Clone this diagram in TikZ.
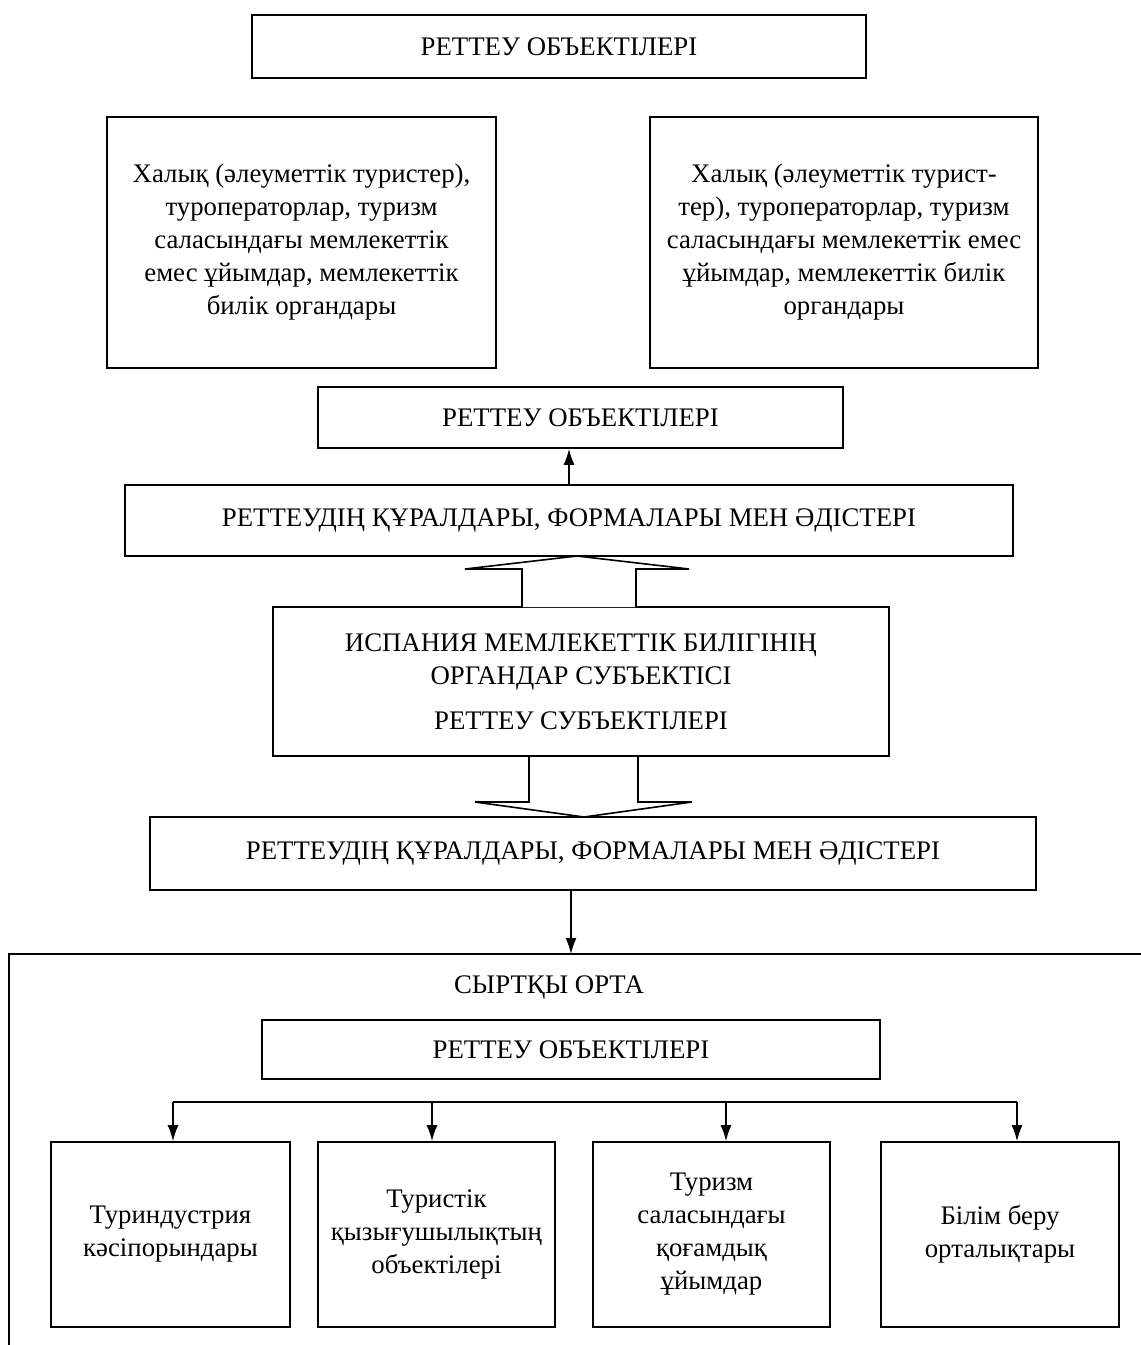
\documentclass[tikz,border=0pt]{standalone}
\usepackage{fontspec}
\setmainfont{Liberation Serif}
\usepackage{tikz}
\usetikzlibrary{positioning,arrows.meta,calc}

\begin{document}
\begin{tikzpicture}[
    x=0.5pt, y=-0.5pt,
    line/.style={line width=0.8pt, black},
    arr/.style={line, -{Latex[length=8pt,width=5.5pt]}},
    hollow/.style={line, fill=white, line join=miter},
    box/.style={draw, line width=0.8pt, inner sep=0pt,
                align=center,
                font=\fontsize{13.4}{16.5}\selectfont},
    lbl/.style={inner sep=0pt, font=\fontsize{13.4}{16.5}\selectfont},
]
\useasboundingbox (0,0) rectangle (1141,1345);

\node[box, minimum width=307pt, minimum height=31.5pt] (obj1) at (559,46.5)
    {РЕТТЕУ ОБЪЕКТІЛЕРІ};
\node[box, minimum width=194.5pt, minimum height=125.5pt] (grpL) at (301.5,242.5)
    {Халық (әлеуметтік туристер),\\туроператорлар, туризм\\саласындағы мемлекеттік\\емес ұйымдар, мемлекеттік\\билік органдары};
\node[box, minimum width=194pt, minimum height=125.5pt] (grpR) at (844,242.5)
    {Халық (әлеуметтік турист-\\тер), туроператорлар, туризм\\саласындағы мемлекеттік емес\\ұйымдар, мемлекеттік билік\\органдары};
\node[box, minimum width=262.5pt, minimum height=30.5pt] (obj2) at (580.5,417.5)
    {РЕТТЕУ ОБЪЕКТІЛЕРІ};
\node[box, minimum width=444pt, minimum height=35.5pt] (tools1) at (569,520.5)
    {РЕТТЕУДІҢ ҚҰРАЛДАРЫ, ФОРМАЛАРЫ МЕН ӘДІСТЕРІ};
\node[box, minimum width=308pt, minimum height=74.5pt] (subj) at (581,681.5)
    {ИСПАНИЯ МЕМЛЕКЕТТІК БИЛІГІНІҢ\\ОРГАНДАР СУБЪЕКТІСІ\\[6pt]РЕТТЕУ СУБЪЕКТІЛЕРІ};
\node[box, minimum width=443pt, minimum height=36.5pt] (tools2) at (593,853.5)
    {РЕТТЕУДІҢ ҚҰРАЛДАРЫ, ФОРМАЛАРЫ МЕН ӘДІСТЕРІ};

\draw[arr] (tools1.north) -- (tools1.north |- obj2.south);

\draw[hollow] (522,607) -- (522,569) -- (465,569) -- (577,556)
    -- (689,569) -- (636,569) -- (636,607);
\draw[hollow] (529,757) -- (529,802) -- (475,802) -- (584,817)
    -- (692,802) -- (638,802) -- (638,757);

\coordinate (envtop) at (571,954);
\draw[line] (9,1345) -- (9,954) -- (1141,954);
\draw[arr] (tools2.south -| envtop) -- (envtop);

\node[lbl] (env) at (549,987) {СЫРТҚЫ ОРТА};
\node[box, minimum width=309pt, minimum height=29.5pt] (obj3) at (571,1049.5)
    {РЕТТЕУ ОБЪЕКТІЛЕРІ};

\node[box, minimum width=119.5pt, minimum height=92.5pt] (ent1) at (170.5,1234.5)
    {Туриндустрия\\кәсіпорындары};
\node[box, minimum width=118.5pt, minimum height=92.5pt] (ent2) at (436.5,1234.5)
    {Туристік\\қызығушылықтың\\объектілері};
\node[box, minimum width=118.5pt, minimum height=92.5pt] (ent3) at (711.5,1234.5)
    {Туризм\\саласындағы\\қоғамдық\\ұйымдар};
\node[box, minimum width=119pt, minimum height=92.5pt] (ent4) at (1000,1234.5)
    {Білім беру\\орталықтары};

\coordinate (br1) at (173,1102);
\coordinate (br2) at (432,1102);
\coordinate (br3) at (726,1102);
\coordinate (br4) at (1017,1102);
\draw[line] (br1) -- (br4);
\foreach \i in {1,...,4}
    \draw[arr] (br\i) -- (br\i |- ent\i.north);
\end{tikzpicture}
\end{document}
